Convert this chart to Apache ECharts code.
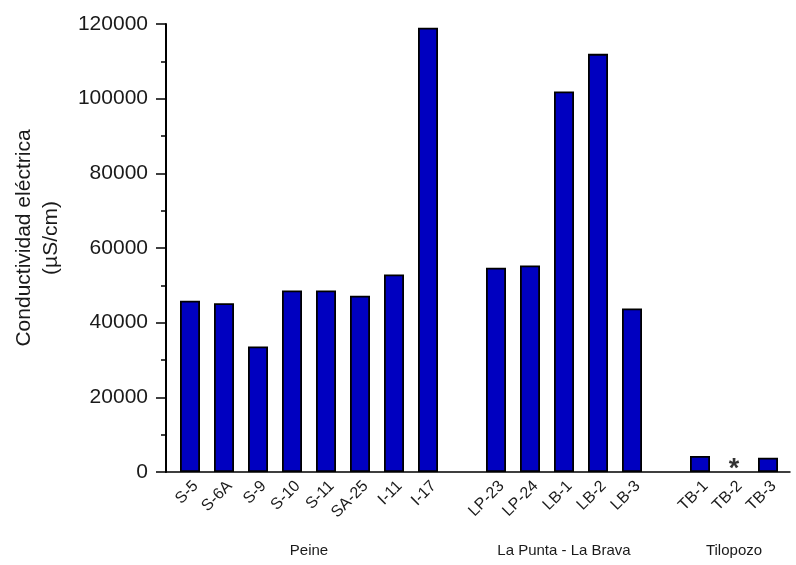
<!DOCTYPE html>
<html>
<head>
<meta charset="utf-8">
<script src="https://cdn.jsdelivr.net/npm/echarts@6/dist/echarts.min.js"></script>
<style>
  html, body { margin: 0; padding: 0; background: #fff; }
  #chart { width: 796px; height: 565px; }
</style>
</head>
<body>
<div id="chart"></div>
<script>
// Sampling wells, with blank slots separating the three sites
const categories = ['S-5', 'S-6A', 'S-9', 'S-10', 'S-11', 'SA-25', 'I-11', 'I-17', ' ',
  'LP-23', 'LP-24', 'LB-1', 'LB-2', 'LB-3', '  ',
  'TB-1', 'TB-2', 'TB-3'];

// Electrical conductivity (µS/cm); '-' = no measurement
const conductivity = [45900, 45200, 33600, 48600, 48600, 47200, 52900, 119000, '-',
  54700, 55300, 101900, 112000, 43800, '-',
  4300, '-', 3800];

// Wells without a measurement, marked with an asterisk
const missingWells = ['TB-2'];

// Site names and the first/last well index of each site
const groupNames = ['Peine', 'La Punta - La Brava', 'Tilopozo'];
const groupRanges = [[0, 7], [9, 13], [15, 17]];

const yTicks = { min: 0, max: 120000, interval: 20000 };

const FONT = "'Liberation Sans', Arial, Helvetica, sans-serif";

const chart = echarts.init(document.getElementById('chart'), null, { renderer: 'canvas' });

const option = {
  animation: false,
  backgroundColor: '#ffffff',
  textStyle: { fontFamily: FONT },
  grid: [
    { left: 173, right: 11, top: 24, bottom: 93 },
    { left: 166, right: 6, top: 24, bottom: 93 }
  ],
  xAxis: [
    {
      type: 'category',
      gridIndex: 0,
      data: categories,
      boundaryGap: true,
      axisLine: { show: false },
      axisTick: { show: false },
      axisLabel: {
        interval: 0,
        rotate: 45,
        fontSize: 16,
        fontFamily: FONT,
        color: '#1a1a1a',
        verticalAlign: 'top',
        margin: 6
      }
    },
    {
      // baseline running the full width of the frame
      type: 'value',
      gridIndex: 1,
      min: 0,
      max: 1,
      axisLine: { show: true, lineStyle: { color: '#000', width: 1.5 } },
      axisTick: { show: false },
      axisLabel: { show: false },
      splitLine: { show: false }
    }
  ],
  yAxis: [
    {
      type: 'value',
      gridIndex: 0,
      min: yTicks.min,
      max: yTicks.max,
      interval: yTicks.interval,
      offset: 7,
      name: 'Conductividad eléctrica\n(µS/cm)',
      nameLocation: 'middle',
      nameRotate: 90,
      nameGap: 101,
      nameTextStyle: {
        fontSize: 21,
        fontFamily: FONT,
        color: '#1a1a1a',
        lineHeight: 27,
        padding: [0, 0, 0, 20]
      },
      axisLine: { show: true, lineStyle: { color: '#000', width: 2 } },
      axisTick: { show: true, inside: false, length: 10, lineStyle: { color: '#000', width: 1.5 } },
      minorTick: { show: true, splitNumber: 2, length: 5, lineStyle: { color: '#000', width: 1.5 } },
      splitLine: { show: false },
      minorSplitLine: { show: false },
      axisLabel: {
        fontSize: 21,
        fontFamily: FONT,
        color: '#1a1a1a',
        margin: 18,
        formatter: v => String(v)
      }
    },
    { type: 'value', gridIndex: 1, show: false, min: 0, max: 1 }
  ],
  series: [
    {
      type: 'bar',
      xAxisIndex: 0,
      yAxisIndex: 0,
      data: conductivity,
      barWidth: 20,
      itemStyle: {
        color: '#0000c0',
        borderColor: '#000',
        borderWidth: 1.8
      }
    },
    {
      type: 'scatter',
      xAxisIndex: 0,
      yAxisIndex: 0,
      data: missingWells.map(w => [w, 0]),
      symbolSize: 0,
      silent: true,
      label: {
        show: true,
        position: 'top',
        distance: -11,
        formatter: '*',
        fontSize: 27,
        fontWeight: 'bold',
        fontFamily: FONT,
        color: '#000'
      }
    }
  ]
};

chart.setOption(option);

// Site names centred under each group of wells
const groupY = chart.convertToPixel({ yAxisIndex: 0 }, 0) + 79;
chart.setOption({
  graphic: groupNames.map((name, i) => {
    const x0 = chart.convertToPixel({ xAxisIndex: 0 }, groupRanges[i][0]);
    const x1 = chart.convertToPixel({ xAxisIndex: 0 }, groupRanges[i][1]);
    return {
      type: 'text',
      x: (x0 + x1) / 2,
      y: groupY,
      style: {
        text: name,
        fontSize: 15,
        fontFamily: FONT,
        fill: '#1a1a1a',
        align: 'center',
        verticalAlign: 'middle'
      }
    };
  })
});
</script>
</body>
</html>
